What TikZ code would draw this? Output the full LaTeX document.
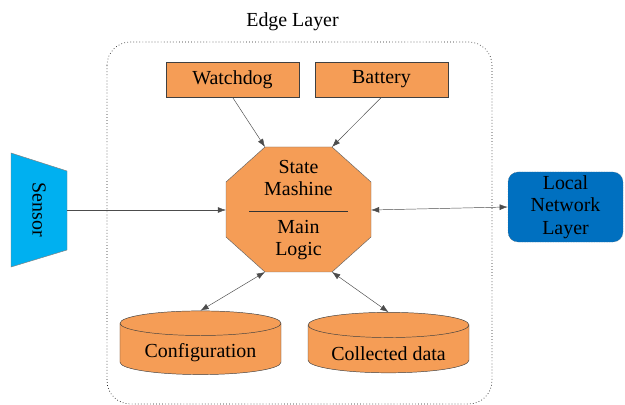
\documentclass[tikz,border=0pt]{standalone}
\usepackage{fontspec}
\setmainfont{Liberation Serif}
\newfontfamily\timesface{Liberation Serif}
\usetikzlibrary{shapes.geometric,arrows.meta}
\definecolor{boxorange}{RGB}{245,157,86}
\definecolor{sensorblue}{RGB}{0,176,240}
\definecolor{netblue}{RGB}{0,112,192}
\tikzset{
  txt/.style={font=\timesface\fontsize{17}{19}\selectfont, align=center, inner sep=0pt},
  block/.style={txt, draw=black!75, fill=boxorange, minimum width=3.99cm, minimum height=1.05cm},
  store/.style={txt, cylinder, shape border rotate=90, aspect=0.22, draw=black!75, fill=boxorange,
    minimum width=4.83cm, minimum height=1.72cm},
  link/.style={thin, draw=black!70},
}
\begin{document}
\begin{tikzpicture}[x=0.03cm, y=-0.03cm, >={Latex[length=7pt, width=5pt]}]
\clip (0,0) rectangle (625,405);
%contenitore
\draw[dotted, line width=0.6pt, black!85, rounded corners=0.7cm] (107,42) rectangle (492,404);
\node[txt] (edge) at (292.5,22) {Edge Layer};
%blocchi in alto
\node[block] (watch) at (232.5,79.5) {Watchdog};
\node[block] (batt) at (381.5,79.5) {Battery};
%logica centrale
\draw[draw=black!60, fill=boxorange] (265,147) -- (332,147) -- (371,182) -- (371,237)
  -- (332,272) -- (265,272) -- (226,237) -- (226,182) -- cycle;
\coordinate (logic-nw) at (265,147);
\coordinate (logic-ne) at (332,147);
\coordinate (logic-sw) at (265,272);
\coordinate (logic-se) at (332,272);
\coordinate (logic-w) at (226,210);
\coordinate (logic-e) at (371,210);
\node[txt] (state) at (298.5,178) {State\\Mashine};
\node[txt] (main) at (298.5,240) {Main\\Logic};
\draw[black!80] (249,211) -- (348,211);
%sensore
\draw[draw=black!50, fill=sensorblue] (11,153) -- (67,171) -- (67,250) -- (11,267) -- cycle;
\coordinate (sensor-e) at (67,210);
\node[txt, rotate=-90] (sensor) at (39,210) {Sensor};
%rete locale
\node[txt, draw=black!60, densely dotted, fill=netblue, rounded corners=0.3cm,
  minimum width=3.45cm, minimum height=2.1cm] (net) at (565.5,207) {Local\\Network\\Layer};
%memorie
\node[store] (config) at (200.5,349) {\\Configuration};
\node[store] (data) at (388.5,349) {\\Collected data};
%connessioni
\draw[link, ->] (watch.south) -- (logic-nw);
\draw[link, ->] (batt.south) -- (logic-ne);
\draw[link, ->] (sensor-e) -- (logic-w);
\draw[link, <->] (logic-e) -- (net.west);
\draw[link, <->] (logic-sw) -- (config.top);
\draw[link, <->] (logic-se) -- (data.top);
\end{tikzpicture}
\end{document}
